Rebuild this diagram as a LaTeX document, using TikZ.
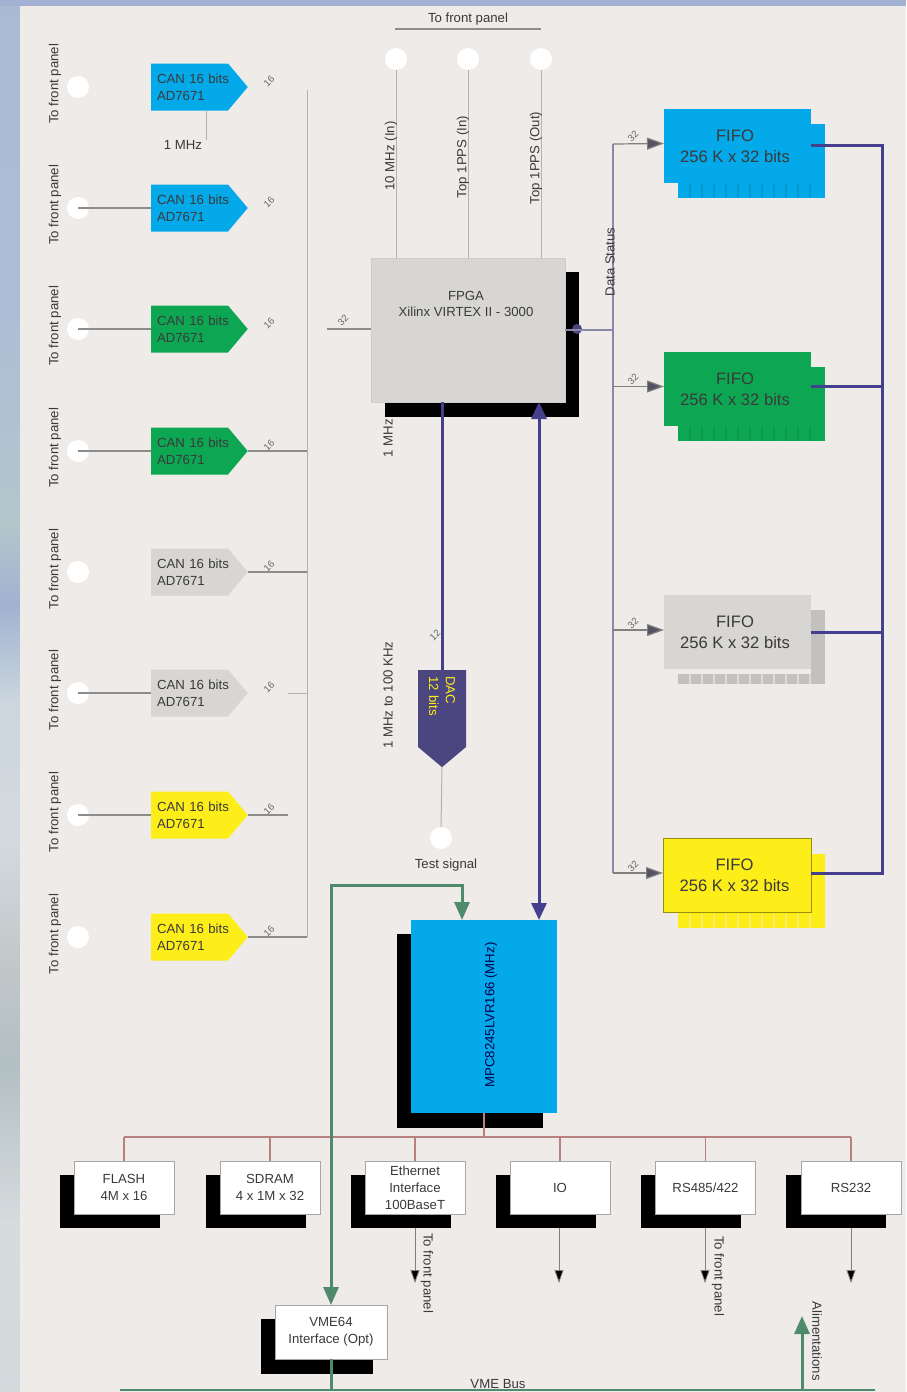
\documentclass[tikz,border=0pt]{standalone}
\usepackage{xcolor}
\usepackage{fontspec}
\setmainfont{Liberation Sans}
\usetikzlibrary{shapes.symbols, arrows.meta, positioning}
\definecolor{panel}{HTML}{EEEBE8}
\definecolor{sky}{HTML}{A3B2D2}
\definecolor{canblue}{HTML}{04A9E9}
\definecolor{cangreen}{HTML}{0DA753}
\definecolor{cangray}{HTML}{D8D6D2}
\definecolor{canyellow}{HTML}{FDEE1A}
\definecolor{dacpurple}{HTML}{4B4580}
\definecolor{buspurple}{HTML}{45408E}
\definecolor{statpurple}{HTML}{8A88A8}
\definecolor{vmegreen}{HTML}{4F8A6C}
\definecolor{busred}{HTML}{B98080}
\definecolor{ink}{HTML}{3A3A3A}
\pgfdeclareverticalshading{skystrip}{100bp}{
  rgb(0bp)=(.78,.80,.82);
  rgb(31bp)=(.84,.86,.87);
  rgb(36.8bp)=(.70,.75,.76);
  rgb(40.4bp)=(.76,.78,.79);
  rgb(44.7bp)=(.83,.85,.87);
  rgb(49.7bp)=(.80,.84,.87);
  rgb(53.3bp)=(.63,.70,.82);
  rgb(56.2bp)=(.70,.78,.80);
  rgb(64bp)=(.68,.74,.84);
  rgb(100bp)=(.64,.70,.82)}
\newcommand{\canlabel}{\mbox{CAN 16 bits}\\AD7671}
\newcommand{\fifolabel}{FIFO\kern2.5pt\\256 K x 32 bits\kern2.5pt}
\tikzset{every node/.style={align=center, inner sep=0pt, outer sep=0pt, text=ink}}
\tikzset{
  fsmall/.style={font=\fontsize{6.6}{8.4}\selectfont},
  canbox/.style={shape=signal, signal from=nowhere, signal to=east, signal pointer angle=100,
    minimum height=23.5pt, inner xsep=3pt, fsmall, align=left, text width=32.5pt},
  jack/.style={circle, fill=white, minimum size=11pt},
  shadow/.style={fill=black, anchor=center},
  iobox/.style={draw=gray!70, line width=.4pt, fill=white, minimum width=50pt, minimum height=26.5pt, fsmall},
  iosh/.style={fill=black, minimum width=50pt, minimum height=26.5pt},
  fifofront/.style={minimum width=73.5pt, minimum height=37pt, font=\fontsize{8.3}{10.5}\selectfont},
  fifoback/.style={minimum width=73.5pt, minimum height=37pt},
  vlabel/.style={fsmall, rotate=90},
  hlabel/.style={fsmall},
  bustick/.style={font=\fontsize{4.8}{5.5}\selectfont, rotate=45, text=gray!80!black},
  sig/.style={draw=gray!90, line width=.7pt},
  fine/.style={draw=gray!60, line width=.5pt},
  stat/.style={draw=statpurple, line width=1.25pt},
  statarr/.style={draw=gray, line width=.6pt, -{Triangle[length=8.5pt,width=6pt,fill=statpurple!60!black]}},
  fatbus/.style={draw=buspurple, line width=1.5pt},
  fatarr/.style={fatbus, {Triangle[length=8.5pt,width=7.5pt]}-{Triangle[length=8.5pt,width=7.5pt]}},
  vmebus/.style={draw=vmegreen, line width=1.5pt},
  vmearr/.style={vmebus, {Triangle[length=9pt,width=7.5pt]}-{Triangle[length=9pt,width=7.5pt]}},
  redbus/.style={draw=busred, line width=.75pt},
  outarr/.style={draw=gray, line width=.4pt, -{Triangle[length=6.5pt,width=4.5pt,fill=black]}}
}
\begin{document}
\begin{tikzpicture}[x=0.5pt,y=-0.5pt]
  \useasboundingbox (0,0) rectangle (906,1392);
  % backdrop
  \shade[shading=skystrip] (0,0) rectangle (20,1392);
  \fill[sky] (0,0) rectangle (906,6);
  \fill[panel] (20,6) rectangle (906,1392);

  % converters
  \node (can1) at (189.5,87)  [canbox, fill=canblue]   {\canlabel};
  \node (can2) at (189.5,208) [canbox, fill=canblue]   {\canlabel};
  \node (can3) at (189.5,329) [canbox, fill=cangreen]  {\canlabel};
  \node (can4) at (189.5,451) [canbox, fill=cangreen]  {\canlabel};
  \node (can5) at (189.5,572) [canbox, fill=cangray]   {\canlabel};
  \node (can6) at (189.5,693) [canbox, fill=cangray]   {\canlabel};
  \node (can7) at (189.5,815) [canbox, fill=canyellow] {\canlabel};
  \node (can8) at (189.5,937) [canbox, fill=canyellow] {\canlabel};

  \foreach \i/\y in {1/87,2/208,3/329,4/451,5/572,6/693,7/815,8/937}{
      \node (jack\i) at (78,\y) [jack] {};
      \node (lab\i) at (55,\y-3) [vlabel] {To front panel};
      \node (tick\i) at (269,\y-6) [bustick] {16};
  }
  \foreach \i in {2,3,4,6,7}
      \draw[sig] (jack\i.center) -- (can\i.west);

  \node (mhz) at (183,145) [hlabel] {1 MHz};
  \draw[fine] (can1.south) ++(16.5,0) coordinate (mhzTop) -- (mhzTop |- mhz.north);

  \coordinate (sumTop) at (307,90);
  \coordinate (sumBot) at (307,937);
  \coordinate (gapA) at (288,693);
  \coordinate (gapB) at (288,815);
  \draw[fine] (sumTop) -- (sumBot);
  \draw[sig] (can4.east) -- (can4.east -| sumTop);
  \draw[sig] (can5.east) -- (can5.east -| sumTop);
  \draw[fine] (gapA) -- (gapA -| sumTop);
  \draw[sig] (can7.east) -- (gapB);
  \draw[sig] (can8.east) -- (sumBot);

  % fpga
  \node (fpgaSh) at (482,344.5) [shadow, minimum width=97pt, minimum height=72.5pt] {};
  \node (fpga) at (468,330) [fill=cangray, draw=gray!40, line width=.3pt, minimum width=97pt, minimum height=72pt] {};
  \node (fpgaText) at (466,304) [fsmall, text=ink] {FPGA\\Xilinx VIRTEX II - 3000};

  \coordinate (fpgaIn) at (327,329);
  \draw[sig] (fpgaIn) -- (fpgaIn -| fpga.west);
  \node (tickIn) at (343,320) [bustick] {32};

  \node (tfp) at (468,19) [hlabel] {To front panel};
  \coordinate (tfpL) at (395,29);
  \coordinate (tfpR) at (541,29);
  \draw[sig] (tfpL) -- (tfpR);

  \node (topA) at (396,59) [jack] {};
  \node (topB) at (468,59) [jack] {};
  \node (topC) at (541,59) [jack] {};
  \draw[fine] (topA.south) -- (topA.south |- fpga.north);
  \draw[fine] (topB.south) -- (topB.south |- fpga.north);
  \draw[fine] (topC.south) -- (topC.south |- fpga.north);
  \node (topAl) at (391,156) [vlabel] {10 MHz (In)};
  \node (topBl) at (463,157) [vlabel] {Top 1PPS (In)};
  \node (topCl) at (536,158) [vlabel] {Top 1PPS (Out)};

  \node (oneMhz) at (388,438) [vlabel] {1 MHz};
  \node (dacLab) at (388,695) [vlabel] {1 MHz to 100 KHz};

  % dac
  \node (dac) at (442,708.5) [canbox, fill=dacpurple, minimum height=24pt, rotate=-90, text=canyellow] {DAC\\12 bits};
  \draw[fatbus] (dac.west) -- (dac.west |- fpga.south);
  \node (tickDac) at (435,635) [bustick] {12};
  \node (testJack) at (441,838) [jack] {};
  \draw[fine] (dac.east) -- (testJack.north);
  \node (testLab) at (446,865) [hlabel] {Test signal};

  % fifos
  \node (fifoAb) at (751.5,160.5) [fifoback, fill=canblue] {};
  \node (fifoBb) at (751.5,404)   [fifoback, fill=cangreen] {};
  \node (fifoCb) at (751.5,646.5) [fifoback, fill=cangray!90!black] {};
  \node (fifoDb) at (751.5,890.5) [fifoback, fill=canyellow] {};
  \foreach \k in {1,...,11}{
      \draw[canblue!90!black, line width=.8pt] ([xshift=\k*6pt]fifoAb.south west) -- ++(0,-14);
      \draw[cangreen!92!black, line width=.8pt] ([xshift=\k*6pt]fifoBb.south west) -- ++(0,-14);
      \draw[panel!85!gray, line width=1pt] ([xshift=\k*6pt]fifoCb.south west) -- ++(0,-12);
      \draw[panel!40!canyellow, line width=.8pt] ([xshift=\k*6pt]fifoDb.south west) -- ++(0,-14);
  }
  \node (fifoA) at (737.5,146)   [fifofront, fill=canblue] {\fifolabel};
  \node (fifoB) at (737.5,389)   [fifofront, fill=cangreen] {\fifolabel};
  \node (fifoC) at (737.5,632)   [fifofront, fill=cangray] {\fifolabel};
  \node (fifoD) at (737,875.5)   [fifofront, fill=canyellow, minimum width=74pt, draw=canyellow!60!black, line width=.3pt] {\fifolabel};
  \fill[panel] (fifoCb.west |- fifoC.south) rectangle ++(133,5);

  \coordinate (statTop) at (613,144);
  \coordinate (statBot) at (613,873);
  \draw[stat] (statTop) -- (statBot);
  \node (statDot) at (577,329) [circle, fill=dacpurple, minimum size=5pt] {};
  \draw[stat] (fpga.east) -- (fpga.east -| statTop);
  \node (statLab) at (610,262) [vlabel] {Data Status};
  \draw[statarr] (statTop) -- ([yshift=1.25pt]fifoA.west);
  \draw[statarr] ([yshift=1.25pt]fifoB.west -| statTop) -- ([yshift=1.25pt]fifoB.west);
  \draw[statarr] ([yshift=1pt]fifoC.west -| statTop) -- ([yshift=1pt]fifoC.west);
  \draw[statarr] (statBot) -- ([yshift=1.25pt]fifoD.west);
  \foreach \n/\y in {A/136,B/379,C/623,D/866}
      \node (stat\n) at (633,\y) [bustick] {32};

  \coordinate (rbTop) at (882,145);
  \coordinate (rbBot) at (882,873);
  \draw[fatbus] ([yshift=.5pt]fifoA.east) -- (rbTop) -- (rbBot) -- ([yshift=1.25pt]fifoD.east);
  \draw[fatbus] ([yshift=1.5pt]fifoB.east) -- ([yshift=1.5pt]fifoB.east -| rbTop);
  \draw[fatbus] (fifoC.east) -- (fifoC.east -| rbTop);

  % cpu
  \node (mpcSh) at (470,1031) [shadow, minimum width=73pt, minimum height=97pt] {};
  \node (mpc) at (484,1016.5) [fill=canblue, minimum width=73pt, minimum height=96.5pt] {};
  \node (mpcLab) at (491,1015) [vlabel, text=black!70!blue] {MPC8245LVR166 (MHz)};

  \coordinate (linkTop) at (539,402);
  \coordinate (linkBot) at (539,920);
  \draw[fatarr] (linkTop) -- (linkBot);

  % peripherals
  \node (flashSh) at (110,1201)   [iosh] {};
  \node (sdramSh) at (255.5,1201) [iosh] {};
  \node (ethSh)   at (400.5,1201) [iosh] {};
  \node (ioSh)    at (545.5,1201) [iosh] {};
  \node (rsaSh)   at (691,1201)   [iosh] {};
  \node (rsbSh)   at (836,1201)   [iosh] {};
  \node (flash) at (124,1187.5)   [iobox] {FLASH\\4M x 16};
  \node (sdram) at (270,1187.5)   [iobox] {SDRAM\\4 x 1M x 32};
  \node (eth)   at (415,1187.5)   [iobox] {Ethernet\\Interface\\100BaseT};
  \node (io)    at (560,1187.5)   [iobox] {IO};
  \node (rsa)   at (705.5,1187.5) [iobox] {RS485/422};
  \node (rsb)   at (851,1187.5)   [iobox] {RS232};

  \coordinate (busMid) at (484,1137);
  \draw[redbus] (flash.north |- busMid) -- (rsb.north |- busMid);
  \draw[redbus] (mpc.south) -- (busMid);
  \foreach \n in {flash,sdram,eth,io,rsa,rsb}
      \draw[redbus] (\n.north) -- (\n.north |- busMid);

  \coordinate (ethOut) at (415,1283);
  \coordinate (ioOut)  at (559,1283);
  \coordinate (rsaOut) at (705,1283);
  \coordinate (rsbOut) at (851,1283);
  \draw[outarr] (ethSh.south -| ethOut) -- (ethOut);
  \draw[outarr] (ioSh.south -| ioOut) -- (ioOut);
  \draw[outarr] (rsaSh.south -| rsaOut) -- (rsaOut);
  \draw[outarr] (rsbSh.south -| rsbOut) -- (rsbOut);
  \node (ethLab) at (427,1273) [fsmall, rotate=-90] {To front panel};
  \node (rsaLab) at (718,1276) [fsmall, rotate=-90] {To front panel};

  % vme
  \node (vmeSh) at (317,1346.5) [shadow, minimum width=56pt, minimum height=27.5pt] {};
  \node (vme) at (331,1332) [iobox, minimum width=56pt, minimum height=27pt] {VME64\\Interface (Opt)};
  \coordinate (vmeTurn) at (462,885);
  \draw[vmearr] (vme.north) |- (vmeTurn) -- (vmeTurn |- mpc.north);

  \coordinate (vmeL) at (120,1390);
  \coordinate (vmeR) at (875,1390);
  \coordinate (powerTip) at (802,1316);
  \draw[vmebus, line width=1pt] (vmeL) -- (vmeR);
  \draw[vmebus] (vme.south) -- (vme.south |- vmeL);
  \draw[vmebus, -{Triangle[length=9pt,width=7.5pt]}] (powerTip |- vmeL) -- (powerTip);
  \node (vmeLab) at (498,1384) [hlabel] {VME Bus};
  \node (powerLab) at (817,1341) [fsmall, rotate=-90] {Alimentations};
\end{tikzpicture}
\end{document}
